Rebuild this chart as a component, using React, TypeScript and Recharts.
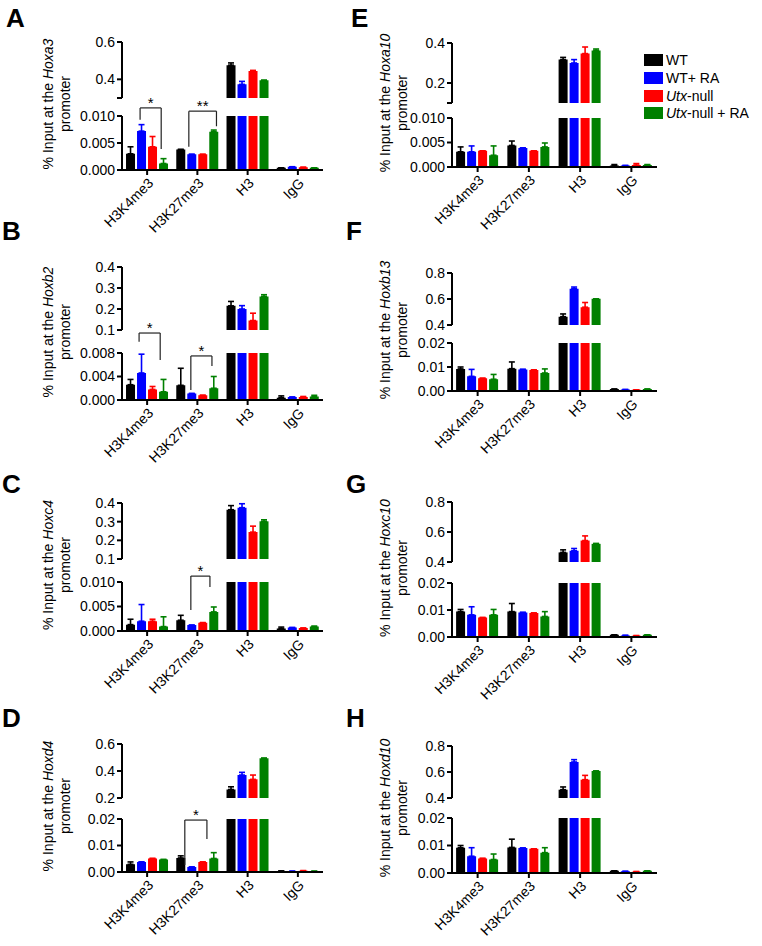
import React from "react";
import {
  Bar,
  ComposedChart,
  ErrorBar,
  ReferenceDot,
  ReferenceLine,
  XAxis,
  YAxis,
} from "recharts";

// categories on the x axis, series in the legend
const categories = ["H3K4me3", "H3K27me3", "H3", "IgG"];
const seriesNames = ["WT", "WT+ RA", "Utx-null", "Utx-null + RA"];
const seriesColors = ["#000000", "#0000ff", "#ff0000", "#008000"];

// values[series][category], errors are the upper SEM
const hoxa3Values = [
  [0.003, 0.0038, 0.476, 0.0004],
  [0.0072, 0.0029, 0.373, 0.0006],
  [0.0043, 0.0029, 0.445, 0.0005],
  [0.0012, 0.0071, 0.395, 0.0004],
];
const hoxa3Errors = [
  [0.0013, 0, 0.012, 0],
  [0.0012, 0, 0.016, 0],
  [0.0019, 0, 0.003, 0],
  [0.0009, 0.0003, 0, 0],
];

const hoxa10Values = [
  [0.0031, 0.0044, 0.317, 0.0003],
  [0.0031, 0.0039, 0.3, 0.0003],
  [0.0033, 0.0033, 0.347, 0.0004],
  [0.0024, 0.0041, 0.363, 0.0004],
];
const hoxa10Errors = [
  [0.001, 0.0009, 0.011, 0.0002],
  [0.0012, 0, 0.017, 0],
  [0, 0, 0.033, 0.0003],
  [0.0019, 0.0008, 0.007, 0.0001],
];

const hoxb2Values = [
  [0.0026, 0.0025, 0.215, 0.0004],
  [0.0046, 0.0011, 0.2, 0.0005],
  [0.0018, 0.0008, 0.145, 0.0005],
  [0.0014, 0.002, 0.26, 0.0006],
];
const hoxb2Errors = [
  [0.0009, 0.0029, 0.021, 0.0003],
  [0.0032, 0, 0.016, 0],
  [0.0005, 0, 0.035, 0.0001],
  [0.0021, 0.002, 0.008, 0.0002],
];

const hoxb13Values = [
  [0.0092, 0.0093, 0.464, 0.0008],
  [0.0061, 0.009, 0.679, 0.0006],
  [0.0053, 0.0088, 0.537, 0.0005],
  [0.0049, 0.0075, 0.601, 0.0008],
];
const hoxb13Errors = [
  [0.0008, 0.0028, 0.021, 0],
  [0.0029, 0, 0.013, 0],
  [0, 0, 0.036, 0],
  [0.002, 0.0017, 0, 0],
];

const hoxc4Values = [
  [0.0013, 0.0022, 0.364, 0.0005],
  [0.002, 0.0012, 0.375, 0.0007],
  [0.002, 0.0017, 0.244, 0.0006],
  [0.0009, 0.0039, 0.302, 0.0009],
];
const hoxc4Errors = [
  [0.0011, 0.001, 0.022, 0.0003],
  [0.0034, 0, 0.021, 0],
  [0.0004, 0, 0.032, 0],
  [0.002, 0.001, 0.008, 0.0001],
];

const hoxc10Values = [
  [0.0094, 0.0094, 0.464, 0.0008],
  [0.0082, 0.0091, 0.475, 0.0006],
  [0.0072, 0.0089, 0.543, 0.0005],
  [0.0082, 0.0076, 0.521, 0.0008],
];
const hoxc10Errors = [
  [0.0008, 0.003, 0.017, 0],
  [0.003, 0, 0.015, 0],
  [0, 0, 0.031, 0],
  [0.002, 0.0018, 0.003, 0],
];

const hoxd4Values = [
  [0.0029, 0.0053, 0.263, 0.0004],
  [0.0038, 0.0019, 0.37, 0.0003],
  [0.0051, 0.0038, 0.338, 0.0005],
  [0.0047, 0.0051, 0.495, 0.0003],
];
const hoxd4Errors = [
  [0.0009, 0.0008, 0.02, 0],
  [0, 0, 0.02, 0],
  [0, 0, 0.032, 0],
  [0, 0.0022, 0, 0],
];

const hoxd10Values = [
  [0.0092, 0.0093, 0.464, 0.0008],
  [0.0061, 0.0091, 0.677, 0.0006],
  [0.0053, 0.0088, 0.541, 0.0005],
  [0.0049, 0.0074, 0.608, 0.0008],
];
const hoxd10Errors = [
  [0.0008, 0.003, 0.021, 0],
  [0.0031, 0, 0.018, 0],
  [0, 0, 0.033, 0],
  [0.002, 0.0018, 0, 0],
];

// significance brackets: x in category units (0..4), y in data units
type Bracket = { x1: number; x2: number; top: number; y1: number; y2: number; mark: string };
const hoxa3Brackets: Bracket[] = [
  { x1: 0.36, x2: 0.78, top: 0.0115, y1: 0.0093, y2: 0.0039, mark: "*" },
  { x1: 1.33, x2: 1.88, top: 0.0109, y1: 0.0043, y2: 0.0081, mark: "**" },
];
const hoxb2Brackets: Bracket[] = [
  { x1: 0.34, x2: 0.76, top: 0.0114, y1: 0.0099, y2: 0.0068, mark: "*" },
  { x1: 1.37, x2: 1.79, top: 0.0075, y1: 0.0017, y2: 0.0058, mark: "*" },
];
const hoxc4Brackets: Bracket[] = [
  { x1: 1.37, x2: 1.75, top: 0.0112, y1: 0.0043, y2: 0.009, mark: "*" },
];
const hoxd4Brackets: Bracket[] = [
  { x1: 1.25, x2: 1.69, top: 0.0196, y1: 0.0026, y2: 0.0125, mark: "*" },
];

type PanelSpec = {
  letter: string;
  gene: string;
  col: 0 | 1;
  letterY: number;
  upper: [number, number];
  lower: [number, number];
  upperDomain: [number, number];
  upperTicks: number[];
  hideUpperMin: boolean;
  lowerDomain: [number, number];
  lowerTicks: number[];
  lowerDigits: number;
  values: number[][];
  errors: number[][];
  brackets: Bracket[];
};

const panels: PanelSpec[] = [
  { letter: "A", gene: "Hoxa3", col: 0, letterY: 27, upper: [42, 98], lower: [116, 170],
    upperDomain: [0.3, 0.6], upperTicks: [0.3, 0.4, 0.6], hideUpperMin: true,
    lowerDomain: [0, 0.01], lowerTicks: [0, 0.005, 0.01], lowerDigits: 3,
    values: hoxa3Values, errors: hoxa3Errors, brackets: hoxa3Brackets },
  { letter: "B", gene: "Hoxb2", col: 0, letterY: 240, upper: [267, 330], lower: [353, 400],
    upperDomain: [0.1, 0.4], upperTicks: [0.1, 0.2, 0.3, 0.4], hideUpperMin: false,
    lowerDomain: [0, 0.008], lowerTicks: [0, 0.004, 0.008], lowerDigits: 3,
    values: hoxb2Values, errors: hoxb2Errors, brackets: hoxb2Brackets },
  { letter: "C", gene: "Hoxc4", col: 0, letterY: 493, upper: [503, 559], lower: [582, 631],
    upperDomain: [0.1, 0.4], upperTicks: [0.1, 0.2, 0.3, 0.4], hideUpperMin: false,
    lowerDomain: [0, 0.01], lowerTicks: [0, 0.005, 0.01], lowerDigits: 3,
    values: hoxc4Values, errors: hoxc4Errors, brackets: hoxc4Brackets },
  { letter: "D", gene: "Hoxd4", col: 0, letterY: 727, upper: [744, 798], lower: [819, 872],
    upperDomain: [0.2, 0.6], upperTicks: [0.2, 0.4, 0.6], hideUpperMin: false,
    lowerDomain: [0, 0.02], lowerTicks: [0, 0.01, 0.02], lowerDigits: 2,
    values: hoxd4Values, errors: hoxd4Errors, brackets: hoxd4Brackets },
  { letter: "E", gene: "Hoxa10", col: 1, letterY: 27, upper: [43, 103], lower: [118, 167],
    upperDomain: [0.1, 0.4], upperTicks: [0.1, 0.2, 0.4], hideUpperMin: true,
    lowerDomain: [0, 0.01], lowerTicks: [0, 0.005, 0.01], lowerDigits: 3,
    values: hoxa10Values, errors: hoxa10Errors, brackets: [] },
  { letter: "F", gene: "Hoxb13", col: 1, letterY: 240, upper: [273, 325], lower: [343, 391],
    upperDomain: [0.4, 0.8], upperTicks: [0.4, 0.6, 0.8], hideUpperMin: false,
    lowerDomain: [0, 0.02], lowerTicks: [0, 0.01, 0.02], lowerDigits: 2,
    values: hoxb13Values, errors: hoxb13Errors, brackets: [] },
  { letter: "G", gene: "Hoxc10", col: 1, letterY: 493, upper: [502, 562], lower: [583, 637],
    upperDomain: [0.4, 0.8], upperTicks: [0.4, 0.6, 0.8], hideUpperMin: false,
    lowerDomain: [0, 0.02], lowerTicks: [0, 0.01, 0.02], lowerDigits: 2,
    values: hoxc10Values, errors: hoxc10Errors, brackets: [] },
  { letter: "H", gene: "Hoxd10", col: 1, letterY: 727, upper: [746, 798], lower: [818, 873],
    upperDomain: [0.4, 0.8], upperTicks: [0.4, 0.6, 0.8], hideUpperMin: false,
    lowerDomain: [0, 0.02], lowerTicks: [0, 0.01, 0.02], lowerDigits: 2,
    values: hoxd10Values, errors: hoxd10Errors, brackets: [] },
];

const FONT = '"Liberation Sans", Arial, Helvetica, sans-serif';
const AXIS_W = 122;
const colLeft = [0, 330];
const colRight = [323, 657];
const MR = 6;

const axisStyle = { stroke: "#000", strokeWidth: 2 };
const tickStyle = { fill: "#000", fontSize: 14, fontFamily: FONT };

function buildRows(p: PanelSpec) {
  return categories.map((c, i) => {
    // pos = centre of the category band, used by the hidden numeric axis
    const row: Record<string, any> = { cat: c, pos: i + 0.5 };
    seriesNames.forEach((_, s) => {
      row["v" + s] = p.values[s][i];
      row["e" + s] = [0, p.errors[s][i]];
    });
    return row;
  });
}

function bars() {
  return seriesNames.map((name, s) => (
    <Bar key={name} dataKey={"v" + s} name={name} fill={seriesColors[s]} isAnimationActive={false}>
      <ErrorBar
        dataKey={"e" + s}
        direction="y"
        width={3}
        stroke={seriesColors[s]}
        strokeWidth={1.6}
        isAnimationActive={false}
      />
    </Bar>
  ));
}

function Panel({ p }: { p: PanelSpec }) {
  const rows = buildRows(p);
  const left = colLeft[p.col];
  const width = colRight[p.col] - left + MR;
  const upMT = 10;
  const upMB = 10;
  const upH = upMT + (p.upper[1] - p.upper[0]) + upMB;
  const loMT = 34;
  const loH = loMT + (p.lower[1] - p.lower[0]) + 72;
  const axisX = left + AXIS_W;
  const labelCx = p.col === 0 ? axisX - 65 : axisX - 58;
  const labelCy = (p.upper[0] + p.lower[1]) / 2 - 2;

  return (
    <>
      <div
        style={{
          position: "absolute",
          left: p.col === 0 ? (p.letter === "A" ? 6 : 2) : p.letter === "E" ? 351 : 346,
          top: p.letterY - 22,
          fontSize: 26,
          lineHeight: "26px",
          fontWeight: "bold",
          fontFamily: FONT,
        }}
      >
        {p.letter}
      </div>
      <div
        style={{
          position: "absolute",
          left: labelCx,
          top: labelCy,
          transform: "translate(-50%, -50%) rotate(-90deg)",
          fontSize: 14,
          lineHeight: "17px",
          textAlign: "center",
          whiteSpace: "nowrap",
          fontFamily: FONT,
        }}
      >
        % Input at the <i>{p.gene}</i>
        <br />
        promoter
      </div>
      <div style={{ position: "absolute", left, top: p.upper[0] - upMT }}>
        <ComposedChart
          width={width}
          height={upH}
          data={rows}
          barGap={2}
          barCategoryGap="8%"
          margin={{ top: upMT, right: MR, bottom: upMB, left: 0 }}
        >
          <XAxis dataKey="cat" hide />
          <YAxis
            width={AXIS_W}
            domain={p.upperDomain}
            ticks={p.upperTicks}
            allowDataOverflow
            interval={0}
            axisLine={axisStyle}
            tickLine={axisStyle}
            tickSize={5}
            tick={tickStyle}
            tickFormatter={(v: number) =>
              p.hideUpperMin && v === p.upperDomain[0] ? "" : v.toFixed(1)
            }
          />
          {bars()}
        </ComposedChart>
      </div>
      <div style={{ position: "absolute", left, top: p.lower[0] - loMT }}>
        <ComposedChart
          width={width}
          height={loH}
          data={rows}
          barGap={2}
          barCategoryGap="8%"
          margin={{ top: loMT, right: MR, bottom: 0, left: 0 }}
        >
          <XAxis
            dataKey="cat"
            height={72}
            interval={0}
            angle={-45}
            textAnchor="end"
            axisLine={axisStyle}
            tickLine={axisStyle}
            tickSize={5}
            tick={tickStyle}
          />
          <XAxis
            xAxisId="n"
            dataKey="pos"
            type="number"
            domain={[0, 4]}
            ticks={[0, 1, 2, 3, 4]}
            allowDataOverflow
            hide
          />
          <YAxis
            width={AXIS_W}
            domain={p.lowerDomain}
            ticks={p.lowerTicks}
            allowDataOverflow
            interval={0}
            axisLine={axisStyle}
            tickLine={axisStyle}
            tickSize={5}
            tick={tickStyle}
            tickFormatter={(v: number) => v.toFixed(p.lowerDigits)}
          />
          {bars()}
          {p.brackets.map((b, i) => [
            <ReferenceLine
              key={"l" + i}
              xAxisId="n"
              ifOverflow="visible"
              segment={[{ x: b.x1, y: b.y1 }, { x: b.x1, y: b.top }]}
              stroke="#222"
              strokeWidth={1.2}
            />,
            <ReferenceLine
              key={"t" + i}
              xAxisId="n"
              ifOverflow="visible"
              segment={[{ x: b.x1, y: b.top }, { x: b.x2, y: b.top }]}
              stroke="#222"
              strokeWidth={1.2}
            />,
            <ReferenceLine
              key={"r" + i}
              xAxisId="n"
              ifOverflow="visible"
              segment={[{ x: b.x2, y: b.top }, { x: b.x2, y: b.y2 }]}
              stroke="#222"
              strokeWidth={1.2}
            />,
            <ReferenceDot
              key={"d" + i}
              xAxisId="n"
              ifOverflow="visible"
              x={(b.x1 + b.x2) / 2}
              y={b.top}
              r={1}
              fill="none"
              stroke="none"
              label={{ value: b.mark, position: "top", offset: -1, fontSize: 15, fill: "#000", fontFamily: FONT }}
            />,
          ])}
        </ComposedChart>
      </div>
    </>
  );
}

function LegendBox() {
  const rowsY = [60, 78, 96, 113];
  return (
    <div style={{ position: "absolute", left: 644, top: 0, fontFamily: FONT, fontSize: 14 }}>
      {seriesNames.map((name, s) => (
        <div
          key={name}
          style={{ position: "absolute", left: 0, top: rowsY[s] - 8, height: 16, display: "flex", alignItems: "center", whiteSpace: "nowrap" }}
        >
          <span style={{ display: "inline-block", width: 19, height: 12, background: seriesColors[s], marginRight: 3 }} />
          {name.startsWith("Utx") ? (
            <span>
              <i>Utx</i>
              {name.slice(3)}
            </span>
          ) : (
            <span>{name}</span>
          )}
        </div>
      ))}
    </div>
  );
}

export default function App() {
  return (
    <div
      style={{
        position: "absolute",
        left: 0,
        top: 0,
        width: 762,
        height: 946,
        background: "#fff",
        fontFamily: FONT,
        color: "#000",
        overflow: "hidden",
      }}
    >
      {panels.map((p) => (
        <Panel key={p.letter} p={p} />
      ))}
      <LegendBox />
    </div>
  );
}
